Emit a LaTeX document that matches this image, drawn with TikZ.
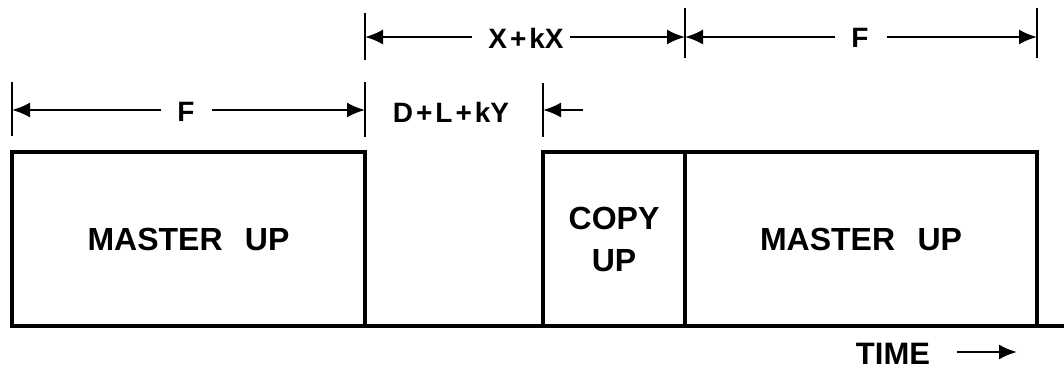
\documentclass[tikz,border=0pt]{standalone}
\usepackage{fontspec}
\setmainfont{Liberation Sans}
\usetikzlibrary{arrows.meta}
\newcommand{\pl}{\kern3pt+\kern3pt}
\begin{document}
\begin{tikzpicture}[x=1pt,y=-1pt,
  wave/.style={line width=3.2pt},
  box/.style={draw, line width=3.2pt, rectangle, inner sep=0pt, outer sep=0pt,
              align=center, font=\fontsize{32}{42}\selectfont\bfseries},
  dim/.style={line width=2.2pt},
  tickline/.style={line width=2.6pt},
  tip/.style={-{Latex[length=18pt,width=15pt]}},
  dlab/.style={inner sep=0pt, font=\fontsize{28}{34}\selectfont\bfseries}]
\useasboundingbox (0,0) rectangle (1064,371);

% waveform boxes
\node[box, minimum width=353pt, minimum height=174pt] (m1) at (188.5,239) {MASTER\hspace{0.7em}UP};
\node[box, minimum width=142pt, minimum height=174pt] (cp) at (614,239) {COPY\\UP};
\node[box, minimum width=352pt, minimum height=174pt] (m2) at (861,239) {MASTER\hspace{0.7em}UP};
\coordinate (end) at (1064,326);
\draw[wave] (m1.south west) -- (m2.south east) -- (end);

% tick marks
\coordinate (a1) at (365,13);  \coordinate (a2) at (365,60);
\coordinate (b1) at (685,8);   \coordinate (b2) at (685,58);
\coordinate (c1) at (1037,8);  \coordinate (c2) at (1037,58);
\coordinate (d1) at (12,82);   \coordinate (d2) at (12,136);
\coordinate (e1) at (365,82);  \coordinate (e2) at (365,137);
\coordinate (g1) at (543,83);  \coordinate (g2) at (543,137);
\foreach \p in {a,b,c,d,e,g} \draw[tickline] (\p1) -- (\p2);

% dimension points
\coordinate (ra) at (365,37);
\coordinate (rb) at (685,37);
\coordinate (rc) at (1037,37);
\coordinate (sd) at (12,110);
\coordinate (se) at (365,110);
\coordinate (sg) at (543,110);
\coordinate (sgo) at (583,110);

% labels
\node[dlab] (x1) at (526,38) {X\pl kX};
\node[dlab] (f1) at (860,38) {F};
\node[dlab] (f2) at (186,112) {F};
\node[dlab] (dly) at (451,112) {D\pl L\pl kY};
\node[dlab, font=\fontsize{31}{36}\selectfont\bfseries] (time) at (893,354) {TIME};
\coordinate (t1) at (957,352);
\coordinate (t2) at (1017,352);

% dimension lines
\draw[dim,tip] ([xshift=-16pt]x1.west |- ra) -- (ra);
\draw[dim,tip] ([xshift=6pt]x1.east |- ra) -- (rb);
\draw[dim,tip] ([xshift=-16pt]f1.west |- rb) -- (rb);
\draw[dim,tip] ([xshift=18pt]f1.east |- rc) -- (rc);
\draw[dim,tip] ([xshift=-16pt]f2.west |- sd) -- (sd);
\draw[dim,tip] ([xshift=17pt]f2.east |- se) -- (se);
\draw[dim,tip] (sgo) -- (sg);
\draw[dim,tip] (t1) -- (t2);
\end{tikzpicture}
\end{document}
